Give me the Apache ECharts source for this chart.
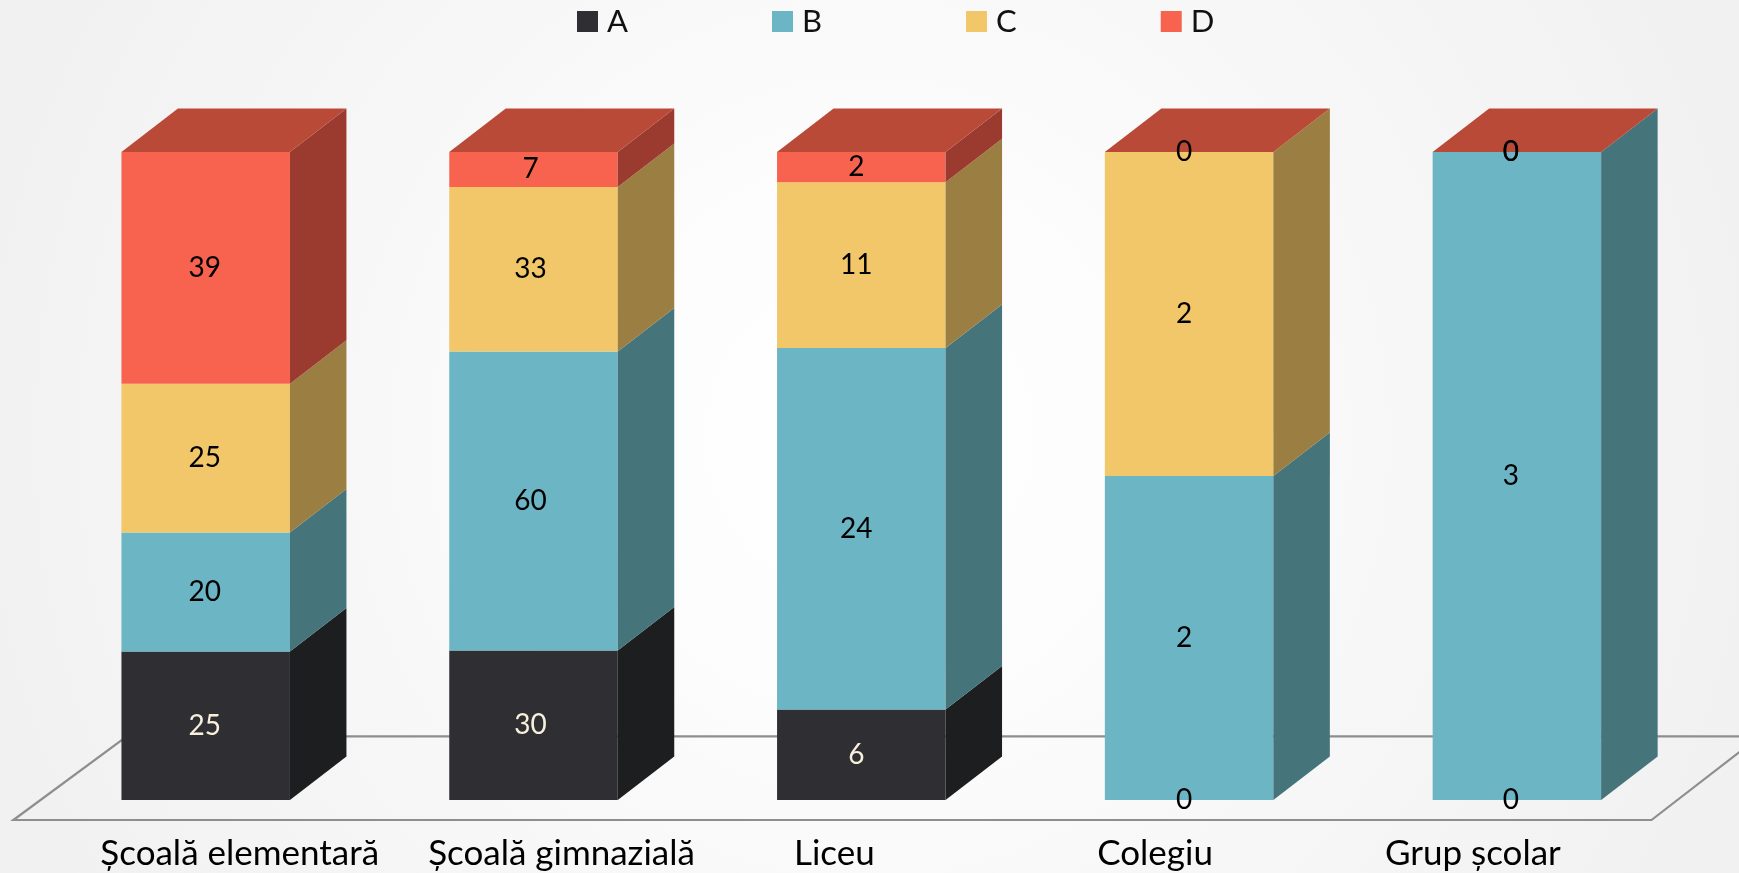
<!DOCTYPE html>
<html>
<head>
<meta charset="utf-8">
<style>html,body{margin:0;padding:0;background:#fff}#c{width:1739px;height:873px}</style>
<script src="https://cdn.jsdelivr.net/npm/echarts@6/dist/echarts.min.js"></script>
</head>
<body>
<div id="c"></div>
<script>
const categories = ['Școală elementară','Școală gimnazială','Liceu','Colegiu','Grup școlar'];
const seriesNames = ['A','B','C','D'];
const valuesA = [25,30,6,0,0];
const valuesB = [20,60,24,2,3];
const valuesC = [25,33,11,2,0];
const valuesD = [39,7,2,0,0];
const frontColors = ['#2e2e33','#6bb5c4','#f1c76a','#f8634f'];
const sideColors = ['#1d1e20','#45747a','#9a7e42','#9b3a2e'];
const capColor = '#b94a38';
const labelShift = [-1,-3,-5,-5,-6];
const axisLabelShift = [34,28,-27,-34,-44];
const FONT = 'Lato, "Open Sans", sans-serif';
const DX = 56.5, DY = 43.5;

const all = [valuesA,valuesB,valuesC,valuesD];
const totals = categories.map((_,i)=>all.reduce((s,a)=>s+a[i],0));
function stackData(k){
  return categories.map((_,i)=>{
    let below = 0;
    for(let j=0;j<k;j++) below += all[j][i];
    return [i, below/totals[i]*100, (below+all[k][i])/totals[i]*100, all[k][i]];
  });
}
function renderSegment(k){
  return function(params, api){
    const i = api.value(0), v = api.value(3);
    const p0 = api.coord([i, api.value(1)]);
    const p1 = api.coord([i, api.value(2)]);
    const w = api.size([1,0])[0]*0.514;
    const xl = p0[0]-w/2, xr = p0[0]+w/2;
    const yb = p0[1], yt = p1[1];
    const children = [];
    if(yb-yt > 0.01){
      children.push({type:'rect',shape:{x:xl,y:yt,width:w,height:yb-yt},style:{fill:frontColors[k]}});
      children.push({type:'polygon',shape:{points:[[xr,yt],[xr+DX,yt-DY],[xr+DX,yb-DY],[xr,yb]]},style:{fill:sideColors[k]}});
    }
    if(k===3){
      children.push({type:'polygon',shape:{points:[[xl,yt],[xl+DX,yt-DY],[xr+DX,yt-DY],[xr,yt]]},style:{fill:capColor}});
    }
    children.push({type:'text',z2:100,style:{
      text:String(v),x:p0[0]+labelShift[i],y:(yb+yt)/2,align:'center',verticalAlign:'middle',
      fill:(k===0&&v>0)?'#f8f0dc':'#000',font:'400 28px '+FONT}});
    return {type:'group',children};
  };
}
function renderFloor(params){
  const c = params.coordSys;
  const bottom = c.y+c.height, right = c.x+c.width;
  return {type:'polygon',shape:{points:[
    [c.x-28.4,bottom+20],[right-29.3,bottom+20],[right+79,bottom-63.6],[c.x+85,bottom-63.6]]},
    style:{fill:'none',stroke:'#8e8e8e',lineWidth:2.2}};
}
const series = [{type:'custom',name:'floor',silent:true,animation:false,data:[[0]],encode:{x:0},renderItem:renderFloor,z:1}];
seriesNames.forEach((n,k)=>{
  series.push({type:'custom',name:n,silent:true,animation:false,z:2,
    itemStyle:{color:frontColors[k]},
    encode:{x:0,y:[1,2]},data:stackData(k),renderItem:renderSegment(k)});
});
const chart = echarts.init(document.getElementById('c'),null,{renderer:'canvas'});
chart.setOption({
  animation:false,
  backgroundColor:{type:'radial',x:0.5,y:0.5,r:1.05,colorStops:[{offset:0,color:'#ffffff'},{offset:0.25,color:'#fdfdfd'},{offset:0.6,color:'#f7f7f7'},{offset:1,color:'#f1f1f1'}]},
  legend:{data:seriesNames.map(n=>({name:n,icon:'rect'})),left:577,top:6,padding:0,itemWidth:21,itemHeight:21,itemGap:144,
    selectedMode:false,textStyle:{fontFamily:FONT,fontSize:31,color:'#111',padding:[0,0,0,4]}},
  grid:{left:41.8,top:152,width:1639,height:648},
  xAxis:{type:'category',
    data:categories.map((c,i)=>{
      const s=axisLabelShift[i];
      return {value:c,textStyle:{padding:s>=0?[0,0,0,2*s]:[0,-2*s,0,0]}};
    }),
    axisLine:{show:false},axisTick:{show:false},
    axisLabel:{interval:0,margin:36,fontFamily:FONT,fontSize:35,color:'#000'}},
  yAxis:{type:'value',min:0,max:100,show:false},
  series
});
</script>
</body>
</html>
